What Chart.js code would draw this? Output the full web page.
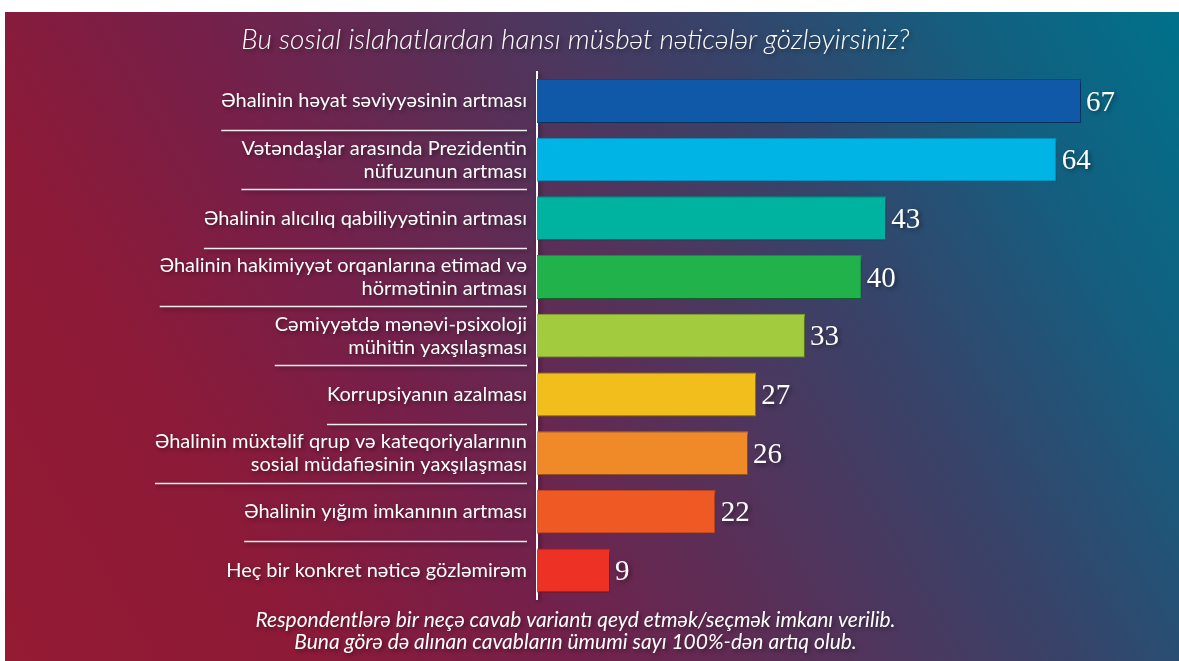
<!DOCTYPE html>
<html>
<head>
<meta charset="utf-8">
<script src="https://cdn.jsdelivr.net/npm/chart.js@4.4.1/dist/chart.umd.min.js"></script>
<style>
html,body{margin:0;padding:0;background:#fff;}
#panel{position:absolute;left:5px;top:12px;width:1174px;height:649px;
  background:linear-gradient(60deg,#951a33 0%,#8c1a38 20%,#75204a 36%,#583058 52%,#36446a 70%,#135f80 86%,#00718a 100%);}
</style>
</head>
<body>
<div id="panel"><canvas id="grafico" width="1174" height="649"></canvas></div>
<script>
const categorias=[
  'Əhalinin həyat səviyyəsinin artması',
  ['Vətəndaşlar arasında Prezidentin','nüfuzunun artması'],
  'Əhalinin alıcılıq qabiliyyətinin artması',
  ['Əhalinin hakimiyyət orqanlarına etimad və','hörmətinin artması'],
  ['Cəmiyyətdə mənəvi-psixoloji','mühitin yaxşılaşması'],
  'Korrupsiyanın azalması',
  ['Əhalinin müxtəlif qrup və kateqoriyalarının','sosial müdafiəsinin yaxşılaşması'],
  'Əhalinin yığım imkanının artması',
  'Heç bir konkret nəticə gözləmirəm'
];
const valores=[67,64,43,40,33,27,26,22,9];
const cores=['#1059a9','#00b5e5','#00b3a0','#21b24b','#a2cc3e','#f1be1c','#f08a28','#ef5a24','#ed3124'];
const bordas=['#0b4a8e','#0099c4','#00988a','#1a963f','#8ab033','#d3a514','#d2741e','#cf4a1c','#c9261c'];
const titulo='Bu sosial islahatlardan hansı müsbət nəticələr gözləyirsiniz?';
const rodape=['Respondentlərə bir neçə cavab variantı qeyd etmək/seçmək imkanı verilib.','Buna görə də alınan cavabların ümumi sayı 100%-dən artıq olub.'];

const fonteRotulo={family:'Lato',size:20};

// sombra em tudo que a chart desenha
const sombra={
  id:'sombra',
  beforeDraw(chart){
    const ctx=chart.ctx;
    ctx.shadowColor='rgba(0,0,0,0.45)';
    ctx.shadowBlur=4;
    ctx.shadowOffsetX=2;
    ctx.shadowOffsetY=2;
  },
  afterDraw(chart){
    const ctx=chart.ctx;
    ctx.shadowColor='rgba(0,0,0,0)';
    ctx.shadowBlur=0;ctx.shadowOffsetX=0;ctx.shadowOffsetY=0;
  }
};

// linhas separadoras entre os rotulos
const separadores={
  id:'separadores',
  afterDatasetsDraw(chart){
    const ctx=chart.ctx,y=chart.scales.y;
    const dir=y.right-10;
    ctx.save();
    ctx.font=fonteRotulo.size+'px '+fonteRotulo.family;
    ctx.strokeStyle='rgba(255,255,255,0.92)';
    ctx.lineWidth=1.5;
    for(let i=0;i<categorias.length-1;i++){
      const linhas=[].concat(categorias[i]);
      const w=Math.max.apply(null,linhas.map(function(t){return ctx.measureText(t).width;}));
      const py=Math.round(y.getPixelForValue(i+0.5))+0.5;
      ctx.beginPath();ctx.moveTo(dir-w,py);ctx.lineTo(dir,py);ctx.stroke();
    }
    ctx.restore();
  }
};

// valores ao lado das barras
const valoresBarras={
  id:'valoresBarras',
  afterDatasetsDraw(chart){
    const ctx=chart.ctx,meta=chart.getDatasetMeta(0);
    ctx.save();
    ctx.font='29px "Liberation Serif"';
    ctx.fillStyle='#fff';
    ctx.textAlign='left';ctx.textBaseline='middle';
    meta.data.forEach(function(bar,i){ctx.fillText(valores[i],bar.x+5,bar.y+2);});
    ctx.restore();
  }
};

new Chart(document.getElementById('grafico'),{
  type:'bar',
  data:{labels:categorias,datasets:[{data:valores,backgroundColor:cores,borderColor:bordas,borderWidth:1,barPercentage:0.75,categoryPercentage:1}]},
  plugins:[sombra,separadores,valoresBarras],
  options:{
    indexAxis:'y',responsive:false,animation:false,
    layout:{padding:{left:0,right:33,top:0,bottom:8}},
    plugins:{
      legend:{display:false},tooltip:{enabled:false},
      title:{display:true,text:titulo,color:'#fff',font:{family:'Lato',size:28,style:'italic',weight:'300',lineHeight:1.2},padding:{top:11,bottom:15}},
      subtitle:{display:true,position:'bottom',text:rodape,color:'#fff',font:{family:'Lato',size:21,style:'italic',weight:'normal',lineHeight:1.05},padding:{top:9,bottom:0}}
    },
    scales:{
      x:{display:false,min:0,max:75},
      y:{
        afterFit:function(s){s.width=532;},
        grid:{display:false,drawTicks:false},
        border:{display:true,color:'#fff',width:2},
        ticks:{color:'#fff',font:{family:fonteRotulo.family,size:fonteRotulo.size,lineHeight:1.15},padding:10,autoSkip:false}
      }
    }
  }
});
</script>
</body>
</html>
